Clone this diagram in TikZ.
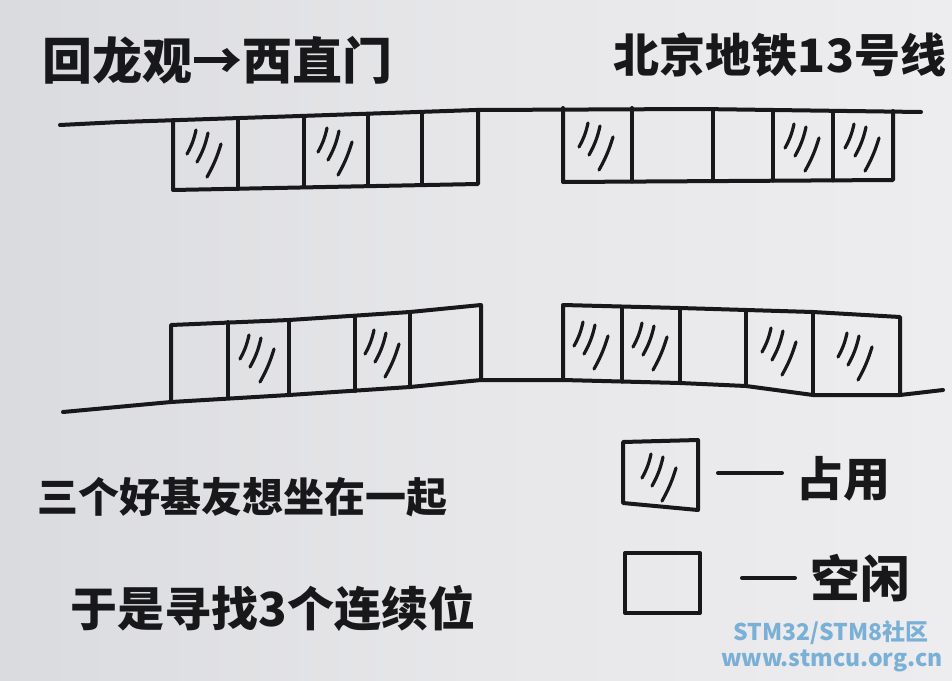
\documentclass[tikz,border=0pt]{standalone}
\usepackage{fontspec}
\newfontfamily\cjk{Noto Sans CJK SC}
\definecolor{ink}{RGB}{24,24,26}
\definecolor{paperL}{RGB}{218,219,222}
\definecolor{paperM}{RGB}{231,231,234}
\definecolor{paperR}{RGB}{237,237,239}
\definecolor{wmblue}{RGB}{122,176,214}
\begin{document}
\begin{tikzpicture}[x=1pt,y=-1pt,
  inkline/.style={draw=ink, line width=4pt, line cap=round, line join=round},
  hatchline/.style={draw=ink, line width=3.2pt, line cap=round},
  hatch/.pic={
    \draw[hatchline] (-9,-20) to[bend left=8] (-18,4);
    \draw[hatchline] (3,-17) to[bend left=8] (-8,12);
    \draw[hatchline] (16,-6) to[bend left=6] (2,27);
  },
  lbl/.style={text=ink, inner sep=0pt},
  wm/.style={text=wmblue, inner sep=0pt, font=\cjk\bfseries\fontsize{23}{23}\selectfont}]
\useasboundingbox (0,0) rectangle (952,680);
\shade[left color=paperL, right color=paperR, middle color=paperM] (0,0) rectangle (952,680);

% titles
\node[lbl, font=\cjk\bfseries\fontsize{50}{50}\selectfont] (title) at (217,60) {回龙观→西直门};
\node[lbl, font=\cjk\bfseries\fontsize{46}{46}\selectfont] (line) at (780,55) {北京地铁13号线};

% top row
\draw[inkline] (60,125) -- (120,122) -- (300,116) -- (476,110) -- (700,109) -- (921,112);
\draw[inkline] (173,120) -- (173,190) -- (478,184) -- (478,110);
\draw[inkline] (238,118) -- (238,189);
\draw[inkline] (304,116) -- (304,187);
\draw[inkline] (368,114) -- (368,186);
\draw[inkline] (422,112) -- (422,185);
\draw[inkline] (563,108) -- (563,182) -- (893,180) -- (893,111);
\draw[inkline] (632,108) -- (632,181.5);
\draw[inkline] (713,109) -- (713,181);
\draw[inkline] (773,110) -- (773,180.7);
\draw[inkline] (833,111) -- (833,180.4);
\pic at (205,150) {hatch};
\pic at (336,148) {hatch};
\pic at (597,143) {hatch};
\pic at (803,144) {hatch};
\pic at (863,144) {hatch};

% bottom row
\draw[inkline] (63,412) -- (171,402) -- (289,395) -- (410,387) -- (481,380) -- (563,380)
  -- (680,383) -- (746,386) -- (813,395) -- (900,395) -- (943,390);
\draw[inkline] (171,402) -- (171,325) -- (289,320) -- (410,312) -- (481,305) -- (481,380);
\draw[inkline] (228,322) -- (228,398);
\draw[inkline] (289,320) -- (289,395);
\draw[inkline] (355,316) -- (355,391);
\draw[inkline] (410,312) -- (410,387);
\draw[inkline] (563,380) -- (563,305) -- (680,308) -- (813,312) -- (900,317) -- (900,395);
\draw[inkline] (622,307) -- (622,381.5);
\draw[inkline] (680,308) -- (680,383);
\draw[inkline] (746,310) -- (746,386);
\draw[inkline] (813,312) -- (813,395);
\pic at (258,355) {hatch};
\pic at (383,350) {hatch};
\pic at (592,342) {hatch};
\pic at (651,343) {hatch};
\pic at (780,348) {hatch};
\pic at (856,353) {hatch};

% captions
\node[lbl, font=\cjk\bfseries\fontsize{41}{41}\selectfont] (cap1) at (242,497) {三个好基友想坐在一起};
\node[lbl, font=\cjk\bfseries\fontsize{47}{47}\selectfont] (cap2) at (273,608) {于是寻找3个连续位};

% legend
\draw[inkline] (623,442) -- (698,440) -- (698,510) -- (623,503) -- cycle;
\pic at (660,474) {hatch};
\draw[inkline] (625,553) -- (700,553) -- (700,613) -- (625,613) -- cycle;
\draw[inkline] (718,473) -- (782,473);
\draw[inkline] (742,578) -- (795,578);
\node[lbl, font=\cjk\bfseries\fontsize{47}{47}\selectfont] (used) at (843,479) {占用};
\node[lbl, font=\cjk\bfseries\fontsize{50}{50}\selectfont] (free) at (860,578) {空闲};

% watermark
\node[wm] (wm1) at (831,633) {STM32/STM8社区};
\node[wm] (wm2) at (832,661) {www.stmcu.org.cn};
\end{tikzpicture}
\end{document}
